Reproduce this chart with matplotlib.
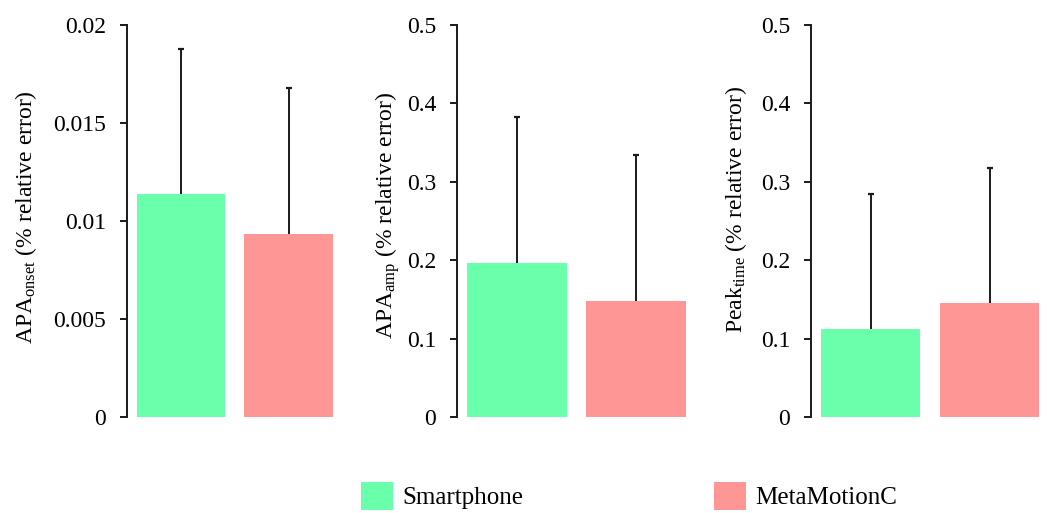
import numpy as np
import matplotlib
matplotlib.use('Agg')
import matplotlib.pyplot as plt
from matplotlib.patches import Patch

plt.rcParams['font.family'] = 'Liberation Serif'
plt.rcParams['mathtext.fontset'] = 'custom'
plt.rcParams['mathtext.rm'] = 'Liberation Serif'
plt.rcParams['mathtext.it'] = 'Liberation Serif:italic'

# Mean relative error and SD for each device
devices = ['Smartphone', 'MetaMotionC']
colors = ['#6AFFAA', '#FF9696']

onset_mean = [0.0114, 0.00935]
onset_sd = [0.0074, 0.00745]
amp_mean = [0.196, 0.148]
amp_sd = [0.187, 0.186]
peak_mean = [0.112, 0.1455]
peak_sd = [0.173, 0.1725]

panels = [
    (onset_mean, onset_sd, r'APA$_{\rm onset}$ (% relative error)',
     [0, 0.005, 0.01, 0.015, 0.02], ['0', '0.005', '0.01', '0.015', '0.02'], 0.02),
    (amp_mean, amp_sd, r'APA$_{\rm amp}$ (% relative error)',
     [0, 0.1, 0.2, 0.3, 0.4, 0.5], ['0', '0.1', '0.2', '0.3', '0.4', '0.5'], 0.5),
    (peak_mean, peak_sd, r'Peak$_{\rm time}$ (% relative error)',
     [0, 0.1, 0.2, 0.3, 0.4, 0.5], ['0', '0.1', '0.2', '0.3', '0.4', '0.5'], 0.5),
]

W, H = 1047, 513
fig = plt.figure(figsize=(W / 100, H / 100), dpi=100)

# axes placement in pixels: left spine x, right edge x, bar width, ylabel x / y
boxes = [(127, 335, 0.82, 39, 0.51), (457, 687, 0.84, 402, 0.515), (811, 1041, 0.83, 749, 0.528)]
bottom_px, top_px = 417, 25

x = np.arange(len(devices))
for (means, sds, label, ticks, ticklabels, ymax), (l, r, bw, lx, ly) in zip(panels, boxes):
    ax = fig.add_axes([l / W, (H - bottom_px) / H, (r - l) / W, (bottom_px - top_px) / H])
    ax.bar(x, means, width=bw, color=colors, zorder=1)
    # upper half of the error bars only
    tops = np.array(means) + np.array(sds)
    ax.vlines(x, means, tops, color='#1a1a1a', linewidth=1.4, zorder=2)
    ax.plot(x, tops, linestyle='none', marker='_', markersize=5,
            markeredgewidth=1.6, color='#1a1a1a', zorder=2)
    ax.set_xlim(-0.5, 1.43)
    ax.set_ylim(0, ymax)
    ax.set_yticks(ticks)
    ax.set_yticklabels(ticklabels)
    ax.set_xticks([])
    for s in ['top', 'right', 'bottom']:
        ax.spines[s].set_visible(False)
    ax.spines['left'].set_linewidth(1.4)
    ax.spines['left'].set_color('#1a1a1a')
    ax.tick_params(axis='y', length=5, width=1.4, color='#1a1a1a', labelsize=17, pad=10)
    ax.set_ylabel(label, fontsize=17)
    ax.yaxis.set_label_coords((lx - l) / (r - l), ly)

handles = [Patch(facecolor=c, edgecolor='none') for c in colors]
fig.legend(handles, devices, loc='center', bbox_to_anchor=(629 / W, (H - 496) / H),
           ncol=2, frameon=False, fontsize=18, handlelength=1.28, handleheight=1.3,
           handletextpad=0.4, columnspacing=7.6, borderpad=0)

fig.savefig('out.png', dpi=100)
